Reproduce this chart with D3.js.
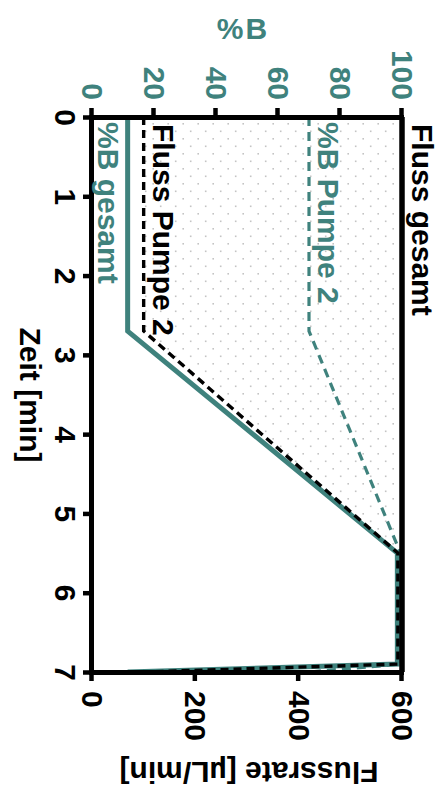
<!DOCTYPE html>
<html>
<head>
<meta charset="utf-8">
<script src="https://cdn.jsdelivr.net/npm/d3@7/dist/d3.min.js"></script>
<style>
  html, body { margin: 0; padding: 0; background: #fff; }
  svg { display: block; }
  text { font-family: "Liberation Sans", Arial, Helvetica, sans-serif; font-weight: bold; }
</style>
</head>
<body>
<svg id="chart" width="442" height="796"></svg>
<script>
// ---- data ----
const time        = [0, 2.7, 5.5, 6.9, 7];
const bGesamt     = [11.5, 11.5, 98.5, 98.5, 11.5];   // %B gesamt
const flussPumpe2 = [100, 100, 592, 592, 100];        // µL/min
const bPumpe2     = [70, 70, 99.5, 99.5, 70];         // %B Pumpe 2
const flussGesamt = [600, 600, 600, 600, 600];        // µL/min
const timeTicks   = [0, 1, 2, 3, 4, 5, 6, 7];
const bTicks      = [0, 20, 40, 60, 80, 100];
const flowTicks   = [0, 200, 400, 600];

const TEAL = "#3f827d";

const svg = d3.select("#chart");
// chart is drawn in its own frame (796 wide x 442 tall) and rotated 90° clockwise
const g = svg.append("g").attr("transform", "translate(442,0) rotate(90)");

const x  = d3.scaleLinear().domain([0, 7]).range([117, 672]);
const yB = d3.scaleLinear().domain([0, 100]).range([350, 40]);
const yF = d3.scaleLinear().domain([0, 600]).range([350, 40]);

const pts = (ys) => time.map((t, i) => [t, ys[i]]);

// dotted pattern (staggered)
const defs = svg.append("defs");
const pat = defs.append("pattern").attr("id", "dots")
  .attr("patternUnits", "userSpaceOnUse").attr("width", 15).attr("height", 15);
pat.append("rect").attr("x", 3).attr("y", 3).attr("width", 1.6).attr("height", 1.6).attr("fill", "#c4c4c4");
pat.append("rect").attr("x", 10.5).attr("y", 10.5).attr("width", 1.6).attr("height", 1.6).attr("fill", "#c4c4c4");

// fill between Fluss Pumpe 2 and Fluss gesamt
const area = d3.area()
  .x(d => x(d[0]))
  .y0((d, i) => yF(flussGesamt[i]))
  .y1(d => yF(d[1]));
g.append("path").datum(pts(flussPumpe2)).attr("d", area).attr("fill", "url(#dots)");

const lineF = d3.line().x(d => x(d[0])).y(d => yF(d[1]));
const lineB = d3.line().x(d => x(d[0])).y(d => yB(d[1]));

// %B Pumpe 2 (teal dashed)
g.append("path").datum(pts(bPumpe2)).attr("d", lineB)
  .attr("fill", "none").attr("stroke", TEAL).attr("stroke-width", 3.2)
  .attr("stroke-dasharray", "9,6");

// %B gesamt (teal solid)
g.append("path").datum(pts(bGesamt)).attr("d", lineB)
  .attr("fill", "none").attr("stroke", TEAL).attr("stroke-width", 5)
  .attr("stroke-linejoin", "miter");

// Fluss Pumpe 2 (black dashed)
g.append("path").datum(pts(flussPumpe2)).attr("d", lineF)
  .attr("fill", "none").attr("stroke", "#000").attr("stroke-width", 3.4)
  .attr("stroke-dasharray", "8,5");

// Fluss gesamt (black solid)
g.append("path").datum(pts(flussGesamt)).attr("d", lineF)
  .attr("fill", "none").attr("stroke", "#000").attr("stroke-width", 5.5);

// ---- axes ----
function styleAxis(sel, color) {
  sel.select(".domain").attr("stroke", "#000").attr("stroke-width", 5).attr("stroke-linecap", "square");
  sel.selectAll(".tick line").attr("stroke", "#000").attr("stroke-width", 4.5);
  sel.selectAll(".tick text").attr("fill", color).attr("font-size", 30)
    .attr("font-family", "'Liberation Sans', Arial, sans-serif").attr("font-weight", "bold");
}

// time axis (original bottom)
const ax = g.append("g").attr("transform", "translate(0,350)")
  .call(d3.axisBottom(x).tickValues(timeTicks).tickFormat(d3.format("d")).tickSize(9).tickSizeOuter(0).tickPadding(6));
styleAxis(ax, "#000");
ax.selectAll(".tick text").attr("y", 37).attr("dy", 0);

// %B axis (original left)
const ab = g.append("g").attr("transform", "translate(117,0)")
  .call(d3.axisLeft(yB).tickValues(bTicks).tickFormat(d3.format("d")).tickSize(9).tickSizeOuter(0).tickPadding(8));
styleAxis(ab, TEAL);

// Flow axis (original right)
const af = g.append("g").attr("transform", "translate(672,0)")
  .call(d3.axisRight(yF).tickValues(flowTicks).tickFormat(d3.format("d")).tickSize(9).tickSizeOuter(0).tickPadding(10));
styleAxis(af, "#000");

// ---- titles ----
g.append("text").attr("x", 395).attr("y", 412).attr("dy", "0.35em")
  .attr("text-anchor", "middle").attr("font-size", 30).attr("fill", "#000")
  .text("Zeit [min]");

g.append("text").attr("transform", "translate(28,199) rotate(-90)").attr("dy", "0.35em")
  .attr("text-anchor", "middle").attr("font-size", 30).attr("fill", TEAL)
  .attr("letter-spacing", 2)
  .text("%B");

g.append("text").attr("transform", "translate(772,193) rotate(90)").attr("dy", "0.35em")
  .attr("text-anchor", "middle").attr("font-size", 30).attr("fill", "#000")
  .text("Flussrate [µL/min]");

// ---- series labels ----
const labels = [
  { t: "Fluss gesamt",  x: 124, y: 30,  c: "#000" },
  { t: "Fluss Pumpe 2", x: 124, y: 289, c: "#000" },
  { t: "%B Pumpe 2",    x: 122, y: 124, c: TEAL },
  { t: "%B gesamt",     x: 122, y: 344, c: TEAL }
];
g.selectAll(".lbl").data(labels).enter().append("text")
  .attr("class", "lbl")
  .attr("x", d => d.x).attr("y", d => d.y)
  .attr("font-size", 30).attr("fill", d => d.c)
  .text(d => d.t);
</script>
</body>
</html>
